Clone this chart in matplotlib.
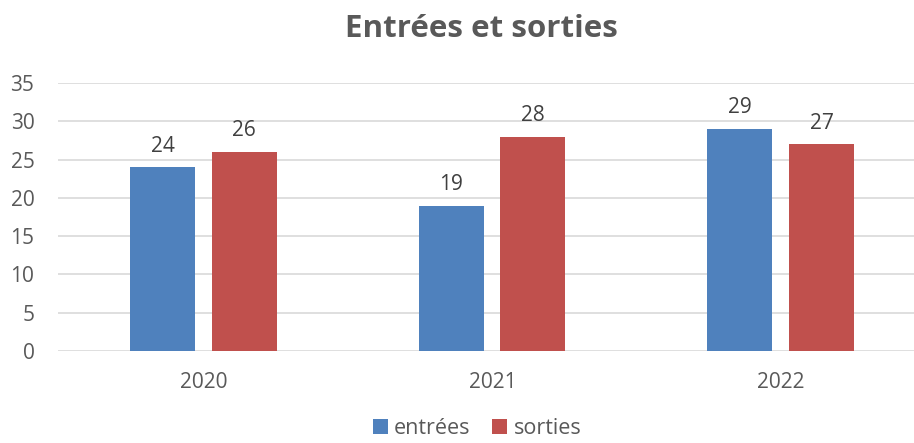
import matplotlib.pyplot as plt
import numpy as np

years = ["2020", "2021", "2022"]
entrees = [24, 19, 29]
sorties = [26, 28, 27]

plt.rcParams["font.family"] = ["Open Sans", "DejaVu Sans"]

fig = plt.figure(figsize=(9.14, 4.43), dpi=100)
ax = fig.add_axes([58 / 914, (443 - 351) / 443, (914 - 58) / 914, (351 - 83) / 443])

x = np.arange(len(years))
w = 0.225
b1 = ax.bar(x - 0.143, entrees, w, color="#4f81bd", label="entrées")
b2 = ax.bar(x + 0.140, sorties, w, color="#c0504d", label="sorties")

# data labels above each bar
for bars in (b1, b2):
    for r in bars:
        ax.text(r.get_x() + r.get_width() / 2, r.get_height() + 1.4, f"{r.get_height():.0f}",
                ha="center", va="bottom", fontsize=15, color="#404040")

ax.set_ylim(0, 35)
ax.set_yticks(range(0, 36, 5))
ax.set_xlim(-0.505, 2.46)
ax.set_xticks(x)
ax.set_xticklabels(years)
ax.yaxis.grid(True, color="#d9d9d9", linewidth=1.2)
ax.set_axisbelow(True)
for s in ax.spines.values():
    s.set_visible(False)
ax.tick_params(length=0, labelsize=15, labelcolor="#595959")
ax.tick_params(axis="y", pad=17)
ax.tick_params(axis="x", pad=15)

fig.text(0.527, 0.935, "Entrées et sorties", ha="center", va="center",
         fontsize=22.5, fontweight="bold", color="#595959")

fig.legend(loc="lower center", bbox_to_anchor=(0.522, -0.035), ncol=2, frameon=False,
           fontsize=15.5, handlelength=0.7, handleheight=0.7, handletextpad=0.3,
           columnspacing=1.0, labelcolor="#595959")

fig.savefig("out.png", dpi=100)
